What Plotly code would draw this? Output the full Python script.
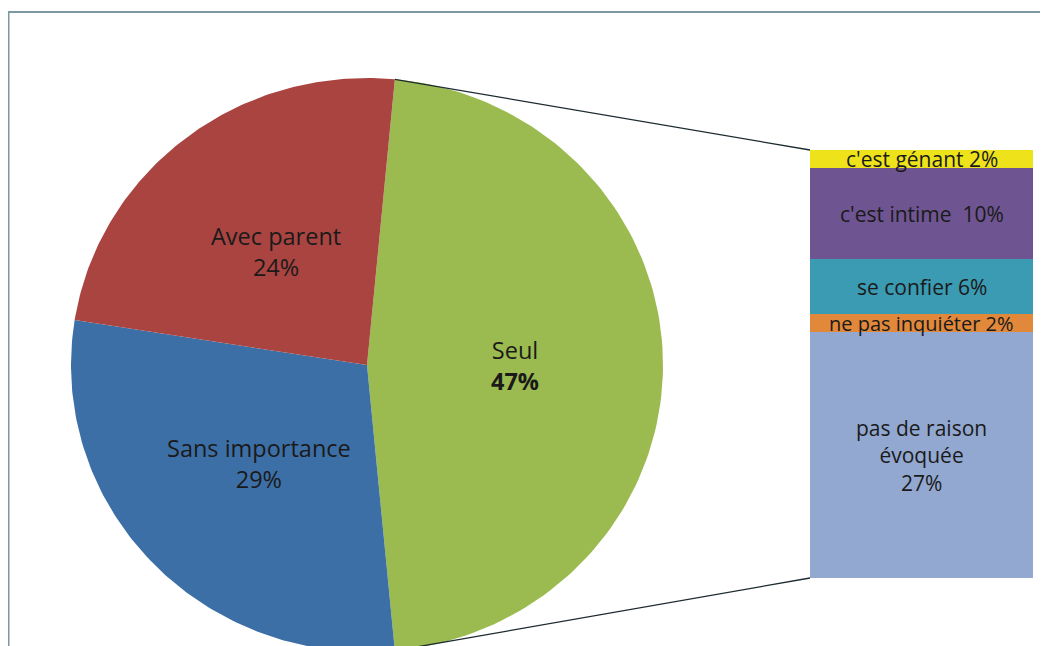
import numpy as np
import plotly.graph_objects as go

# Pie data (the "Seul" slice is split out into the bar on the right)
pie_labels = ["Seul", "Sans importance", "Avec parent"]
pie_values = [47, 29, 24]
pie_colors = ["#9BBB50", "#3D6FA7", "#A94441"]

# Bar data, stacked from the bottom up
bar_labels = ["pas de raison<br>évoquée", "ne pas inquiéter", "se confier", "c'est intime ", "c'est génant"]
bar_values = [27, 2, 6, 10, 2]
bar_colors = ["#92A8D0", "#E2883A", "#3A9BB2", "#6E5490", "#EEE31A"]

# page body has an 8px margin, so the figure is a bit smaller than the window
off = 8
W, H = 1048 - off, 646 - off
font = "Open Sans"
txt_col = "#1a1a1a"

# layout in pixels (figure coordinates)
cx_px, cy_px = 367 - off, 365 - off
rx_px, ry_px = 296, 287
bar_x0, bar_x1 = 810 - off, 1033 - off
bar_y0, bar_y1 = 150 - off, 578 - off

fig = go.Figure()

# pie drawn on a cartesian axis (radius = 1) so it can run past the bottom edge
total = sum(pie_values)
start = 90 - pie_values[0] / total * 360 / 2
ang = start
annotations = []
for lab, val, col in zip(pie_labels, pie_values, pie_colors):
    span = val / total * 360
    t = np.radians(np.linspace(ang, ang + span, 120))
    xs = np.concatenate([[0], np.sin(t), [0]])
    ys = np.concatenate([[0], np.cos(t), [0]])
    fig.add_trace(go.Scatter(x=xs, y=ys, mode="lines", fill="toself", fillcolor=col,
                             line=dict(width=0, color=col), hoverinfo="skip", showlegend=False))
    mid = np.radians(ang + span / 2)
    pct = f"<b>{val}%</b>" if lab == "Seul" else f"{val}%"
    annotations.append(dict(x=0.5 * np.sin(mid), y=0.5 * np.cos(mid), xref="x", yref="y",
                            text=f"{lab}<br>{pct}", showarrow=False,
                            font=dict(family=font, size=23.5, color=txt_col)))
    ang += span

# connector lines from the split slice edges to the bar corners
a0 = np.radians(start)
a1 = np.radians(start + pie_values[0] / total * 360)
bx = (bar_x0 - cx_px) / rx_px
by_top = (cy_px - bar_y0) / ry_px
by_bot = (cy_px - bar_y1) / ry_px
fig.add_trace(go.Scatter(x=[np.sin(a0), bx, None, np.sin(a1), bx],
                         y=[np.cos(a0), by_top, None, np.cos(a1), by_bot],
                         mode="lines", line=dict(color="#1d2a30", width=1.3),
                         hoverinfo="skip", showlegend=False))

# stacked bar
cum = 0
for lab, val, col in zip(bar_labels, bar_values, bar_colors):
    fig.add_trace(go.Bar(x=[0], y=[val], marker=dict(color=col, line=dict(width=0)),
                         xaxis="x2", yaxis="y2", showlegend=False, hoverinfo="skip"))
    sep = "<br>" if "<br>" in lab else " "
    size = 20 if lab == "ne pas inquiéter" else 21
    annotations.append(dict(x=0, y=cum + val / 2, xref="x2", yref="y2",
                            text=f"{lab}{sep}{val}%", showarrow=False,
                            font=dict(family=font, size=size, color=txt_col)))
    cum += val

fig.update_layout(
    width=W, height=H,
    margin=dict(l=0, r=0, t=0, b=0),
    paper_bgcolor="white", plot_bgcolor="rgba(0,0,0,0)",
    barmode="stack", bargap=0,
    xaxis=dict(range=[-cx_px / rx_px, (W - cx_px) / rx_px], domain=[0, 1], visible=False),
    yaxis=dict(range=[-(H - cy_px) / ry_px, cy_px / ry_px], domain=[0, 1], visible=False),
    xaxis2=dict(range=[-0.5, 0.5], domain=[bar_x0 / W, bar_x1 / W], anchor="y2", visible=False),
    yaxis2=dict(range=[0, sum(bar_values)], domain=[1 - bar_y1 / H, 1 - bar_y0 / H],
                anchor="x2", visible=False),
    annotations=annotations,
    shapes=[dict(type="rect", xref="paper", yref="paper",
                 x0=0.5 / W, x1=1.05, y0=-0.05, y1=1 - (12 - off) / H,
                 line=dict(color="#7D98A2", width=2), layer="below")],
)

fig.write_html("out.html")
